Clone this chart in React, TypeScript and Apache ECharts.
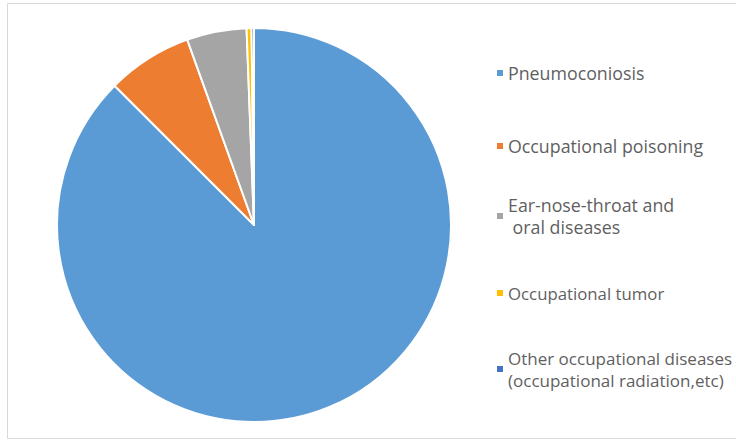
import React, { useEffect, useRef } from "react";
import * as echarts from "echarts";

const categories: string[] = [
  "Pneumoconiosis",
  "Occupational poisoning",
  "Ear-nose-throat and\n oral diseases",
  "Occupational tumor",
  "Other occupational diseases\n(occupational radiation,etc)",
];
const values: number[] = [87.4, 7.0, 4.9, 0.4, 0.2];
const colors: string[] = ["#5b9bd5", "#ed7d31", "#a5a5a5", "#ffc000", "#4472c4"];

// legend layout per item: top, font size, line height
const legendTops = [62, 135, 194, 282, 347];
const legendFont = [17.8, 17.8, 17.8, 16.8, 17];
const legendLine = [22, 22, 22, 22, 22];

export default function App() {
  const ref = useRef<HTMLDivElement>(null);
  useEffect(() => {
    if (!ref.current) return;
    const chart = echarts.init(ref.current, undefined, { renderer: "svg" });
    const legends = categories.map((name, i) => ({
      data: [name],
      orient: "vertical",
      left: 495,
      top: legendTops[i],
      padding: 0,
      itemWidth: 8,
      itemHeight: 8,
      itemGap: 0,
      icon: "rect",
      selectedMode: false,
      textStyle: {
        fontFamily: "Open Sans",
        fontSize: legendFont[i],
        lineHeight: legendLine[i],
        color: "#5f5f5f",
        padding: [0, 0, 0, -1],
      },
    }));
    chart.setOption({
      animation: false,
      backgroundColor: "#ffffff",
      color: colors,
      graphic: [
        {
          type: "rect",
          shape: { x: 7.5, y: 3.5, width: 800, height: 435 },
          style: { fill: "none", stroke: "#d9d9d9", lineWidth: 1 },
          silent: true,
        },
      ],
      legend: legends,
      series: [
        {
          type: "pie",
          center: [254, 225],
          radius: 197,
          startAngle: 90,
          clockwise: true,
          label: { show: false },
          labelLine: { show: false },
          emphasis: { disabled: true },
          itemStyle: { borderColor: "#ffffff", borderWidth: 2 },
          data: categories.map((name, i) => ({ name, value: values[i] })),
        },
      ],
    });
    return () => chart.dispose();
  }, []);
  return (
    <div
      ref={ref}
      style={{ position: "absolute", left: 0, top: 0, width: 736, height: 443 }}
    />
  );
}
